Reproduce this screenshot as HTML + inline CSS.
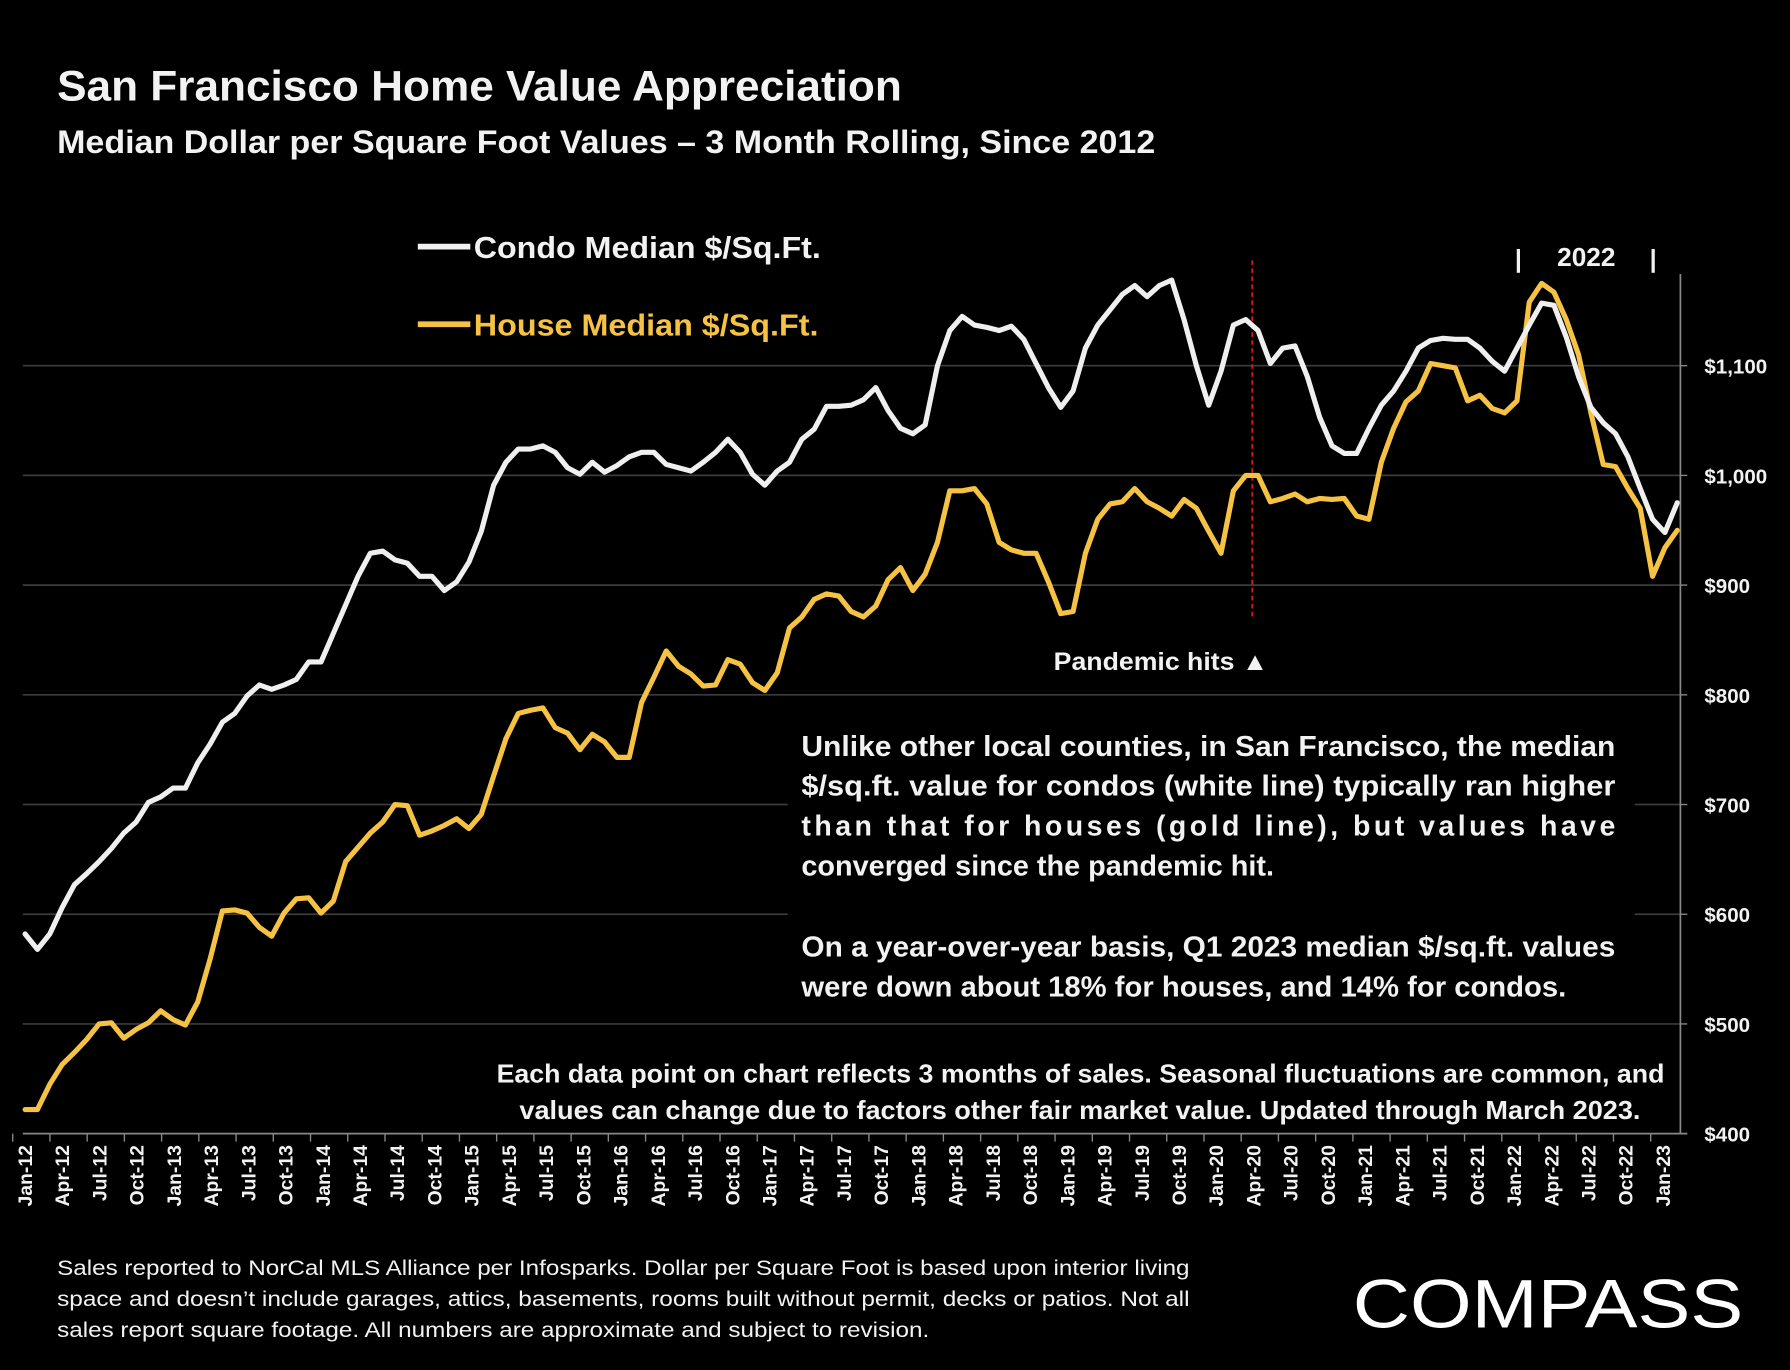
<!DOCTYPE html>
<html><head><meta charset="utf-8">
<style>
html,body{margin:0;padding:0;background:#000;}
svg{display:block;}
text{font-family:"Liberation Sans",sans-serif;font-weight:bold;}
</style></head>
<body>
<svg id="chart" width="1790" height="1370" viewBox="0 0 1568 1200" xmlns="http://www.w3.org/2000/svg">
<rect x="0" y="0" width="1568" height="1200" fill="#000"/>
<text x="50" y="88" font-size="37" fill="#f2f2f2" textLength="740" lengthAdjust="spacingAndGlyphs">San Francisco Home Value Appreciation</text>
<text x="50" y="134" font-size="28" fill="#f2f2f2" textLength="962" lengthAdjust="spacingAndGlyphs">Median Dollar per Square Foot Values – 3 Month Rolling, Since 2012</text>
<g id="grid"></g>
<g id="xaxis"></g>
<g id="yaxis"></g>
<rect x="690" y="622" width="742" height="260" fill="#000"/>
<line x1="1097" y1="228" x2="1097" y2="540" stroke="#d0201c" stroke-width="1.6" stroke-dasharray="4,3"/>
<g id="series"></g>
<g>
<line x1="366" y1="216" x2="412" y2="216" stroke="#f2f2f2" stroke-width="5"/>
<text x="415" y="226" font-size="27" fill="#f2f2f2" textLength="304" lengthAdjust="spacingAndGlyphs">Condo Median $/Sq.Ft.</text>
<line x1="366" y1="284" x2="412" y2="284" stroke="#f6c243" stroke-width="5"/>
<text x="415" y="294" font-size="27" fill="#f6c243" textLength="302" lengthAdjust="spacingAndGlyphs">House Median $/Sq.Ft.</text>
</g>
<text x="1327" y="234" font-size="22" fill="#f2f2f2">|</text>
<text x="1364" y="233" font-size="23" fill="#f2f2f2">2022</text>
<text x="1445" y="234" font-size="22" fill="#f2f2f2">|</text>
<text x="923" y="587" font-size="22" fill="#f2f2f2" textLength="188" lengthAdjust="spacingAndGlyphs">Pandemic hits ▲</text>
<g font-size="25" fill="#f2f2f2">
<text x="702" y="662" textLength="713" lengthAdjust="spacingAndGlyphs">Unlike other local counties, in San Francisco, the median</text>
<text x="702" y="697" textLength="713" lengthAdjust="spacingAndGlyphs">$/sq.ft. value for condos (white line) typically ran higher</text>
<text x="702" y="732" textLength="713">than that for houses (gold line), but values have</text>
<text x="702" y="767" textLength="414" lengthAdjust="spacingAndGlyphs">converged since the pandemic hit.</text>
<text x="702" y="838" textLength="713" lengthAdjust="spacingAndGlyphs">On a year-over-year basis, Q1 2023 median $/sq.ft. values</text>
<text x="702" y="873" textLength="670" lengthAdjust="spacingAndGlyphs">were down about 18% for houses, and 14% for condos.</text>
</g>
<g font-size="23" fill="#f2f2f2">
<text x="435" y="948" textLength="1023" lengthAdjust="spacingAndGlyphs">Each data point on chart reflects 3 months of sales. Seasonal fluctuations are common, and</text>
<text x="455" y="980" textLength="982" lengthAdjust="spacingAndGlyphs">values can change due to factors other fair market value. Updated through March 2023.</text>
</g>
<g font-size="19" fill="#f2f2f2">
<text x="50" y="1117" textLength="992" lengthAdjust="spacingAndGlyphs" style="font-weight:normal;font-family:'Liberation Sans Narrow','Liberation Sans',sans-serif">Sales reported to NorCal MLS Alliance per Infosparks. Dollar per Square Foot is based upon interior living</text>
<text x="50" y="1144" textLength="992" lengthAdjust="spacingAndGlyphs" style="font-weight:normal;font-family:'Liberation Sans Narrow','Liberation Sans',sans-serif">space and doesn’t include garages, attics, basements, rooms built without permit, decks or patios. Not all</text>
<text x="50" y="1171" textLength="764" lengthAdjust="spacingAndGlyphs" style="font-weight:normal;font-family:'Liberation Sans Narrow','Liberation Sans',sans-serif">sales report square footage. All numbers are approximate and subject to revision.</text>
</g>
<text x="1185" y="1163" font-size="60" fill="#fff" style="font-weight:normal" textLength="342" lengthAdjust="spacingAndGlyphs">COMPASS</text>
</svg>
<script>
const yTicks = [400,500,600,700,800,900,1000,1100];
const yTickLabels = ["$400","$500","$600","$700","$800","$900","$1,000","$1,100"];
const xLabels = ["Jan-12","Apr-12","Jul-12","Oct-12","Jan-13","Apr-13","Jul-13","Oct-13","Jan-14","Apr-14","Jul-14","Oct-14","Jan-15","Apr-15","Jul-15","Oct-15","Jan-16","Apr-16","Jul-16","Oct-16","Jan-17","Apr-17","Jul-17","Oct-17","Jan-18","Apr-18","Jul-18","Oct-18","Jan-19","Apr-19","Jul-19","Oct-19","Jan-20","Apr-20","Jul-20","Oct-20","Jan-21","Apr-21","Jul-21","Oct-21","Jan-22","Apr-22","Jul-22","Oct-22","Jan-23"];
const condo = [582,568,582,606,627,637,648,660,674,684,702,707,715,715,738,755,775,783,799,809,805,809,814,830,830,856,882,908,929,931,923,920,908,908,895,903,921,949,991,1012,1024,1024,1027,1021,1007,1001,1012,1003,1009,1017,1021,1021,1010,1007,1004,1012,1021,1033,1021,1001,991,1004,1012,1033,1042,1063,1063,1064,1069,1080,1059,1043,1038,1046,1100,1132,1145,1137,1135,1132,1136,1124,1102,1080,1062,1077,1116,1137,1151,1165,1173,1163,1173,1178,1142,1100,1064,1095,1137,1142,1132,1102,1116,1118,1090,1053,1027,1020,1020,1043,1064,1077,1095,1116,1123,1125,1124,1124,1116,1104,1095,1116,1137,1157,1155,1126,1090,1062,1048,1038,1017,988,960,948,975];
const house = [422,422,445,463,474,486,500,501,487,495,501,512,504,499,520,559,603,604,601,588,580,601,614,615,601,612,648,661,674,684,700,699,672,676,681,687,678,691,726,760,783,786,788,770,765,750,764,757,743,743,793,816,840,826,819,808,809,832,828,811,804,820,861,871,887,892,890,876,871,881,905,916,895,910,939,986,986,988,974,939,932,929,929,903,874,876,929,960,974,976,988,976,970,963,978,970,949,929,986,1000,1000,976,979,983,976,979,978,979,963,960,1012,1043,1067,1077,1102,1100,1098,1068,1073,1061,1057,1068,1158,1175,1167,1142,1110,1057,1010,1008,988,970,908,934,950];
const NS='http://www.w3.org/2000/svg';
const X0=22, MONTH=10.87, Y400=993, PER100=96.1, XR=1472, DSTEP=10.8;
function xScale(i){return X0+i*MONTH;}
function xData(i){return X0+i*DSTEP;}
function yScale(v){return Y400-(v-400)/100*PER100;}
function mk(tag,attrs,parent){const e=document.createElementNS(NS,tag);for(const k in attrs)e.setAttribute(k,attrs[k]);parent.appendChild(e);return e;}
const grid=document.getElementById('grid'), xa=document.getElementById('xaxis'), ya=document.getElementById('yaxis'), ser=document.getElementById('series');
yTicks.forEach((t,i)=>{
  if(t>400){const g=mk('line',{x1:20,x2:XR,y1:yScale(t),y2:yScale(t),stroke:'#3c3c3c','stroke-width':1.5},grid);
  
  }
  const tk=mk('line',{x1:XR,x2:XR+6,y1:yScale(t),y2:yScale(t),stroke:'#888','stroke-width':1.2},ya);
  
  
  const lb=mk('text',{x:1493,y:yScale(t)+7,'font-size':18,fill:'#f2f2f2'},ya);
  lb.textContent=yTickLabels[i];
  
  
});
const ax=mk('line',{x1:XR,x2:XR,y1:240,y2:yScale(400),stroke:'#888','stroke-width':1.5},ya);


const bx=mk('line',{x1:20,x2:XR+6,y1:yScale(400),y2:yScale(400),stroke:'#888','stroke-width':1.5},xa);


xLabels.forEach((l,i)=>{
  const x=xScale(i*3);
  const tk=mk('line',{x1:x-MONTH,x2:x-MONTH,y1:yScale(400),y2:yScale(400)+7,stroke:'#888','stroke-width':1.2},xa);
  
  
  const t=mk('text',{x:0,y:0,'font-size':17,fill:'#f2f2f2','text-anchor':'end',transform:`translate(${x+6},${yScale(400)+10}) rotate(-90)`},xa);
  t.textContent=l;
  
  
});
function drawLine(arr,color,name){
  const d=arr.map((v,i)=>(i?'L':'M')+xData(i).toFixed(1)+','+yScale(v).toFixed(1)).join('');
  const p=mk('path',{d:d,fill:'none',stroke:color,'stroke-width':4.5,'stroke-linejoin':'round','stroke-linecap':'round'},ser);
  
  
}
drawLine(house,'#f6c243','house-line');
drawLine(condo,'#efefef','condo-line');
</script>
</body></html>
